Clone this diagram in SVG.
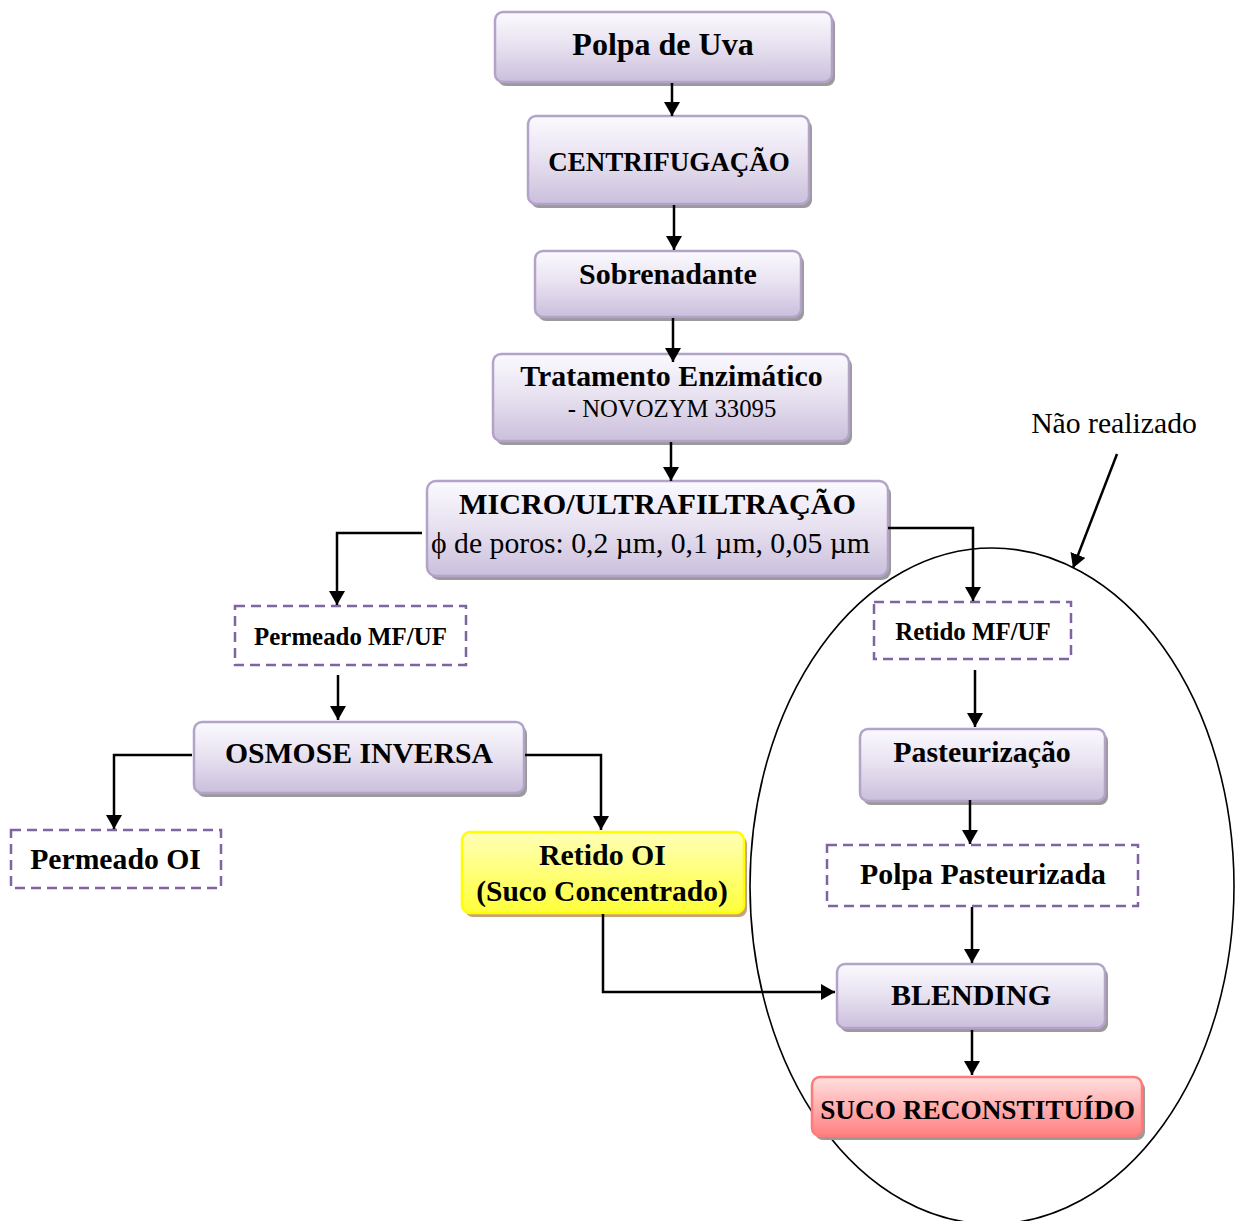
<svg xmlns="http://www.w3.org/2000/svg" width="1237" height="1221" viewBox="0 0 1237 1221">
  <defs>
    <linearGradient id="gLav" x1="0" y1="0" x2="0" y2="1">
      <stop offset="0" stop-color="#fbfaff"/>
      <stop offset="0.45" stop-color="#e9e3f1"/>
      <stop offset="1" stop-color="#cbbfdc"/>
    </linearGradient>
    <linearGradient id="gYel" x1="0" y1="0" x2="0" y2="1">
      <stop offset="0" stop-color="#ffffb8"/>
      <stop offset="1" stop-color="#ffff3a"/>
    </linearGradient>
    <linearGradient id="gRed" x1="0" y1="0" x2="0" y2="1">
      <stop offset="0" stop-color="#ffe0e0"/>
      <stop offset="1" stop-color="#ff8080"/>
    </linearGradient>
    <marker id="ah" viewBox="0 0 14 16" refX="14" refY="8" markerWidth="14" markerHeight="16" markerUnits="userSpaceOnUse" orient="auto">
      <path d="M0,0 L14,8 L0,16 Z" fill="#000"/>
    </marker>
  </defs>
  <style>
    text { font-family: "Liberation Serif", "Times New Roman", serif; fill: #000; }
    .b { font-weight: bold; text-anchor: middle; }
    .r { text-anchor: middle; }
    .box { fill: url(#gLav); stroke: #b4a3c9; stroke-width: 2.5; }
    .sh { fill: #9a9a9a; }
    .shy { fill: #c9a27c; }
    .dash { fill: #fff; stroke: #8064a2; stroke-width: 2.5; stroke-dasharray: 10 6; }
    .con { fill: none; stroke: #000; stroke-width: 2.5; marker-end: url(#ah); }
  </style>
  <rect width="1237" height="1221" fill="#fff"/>

  <!-- boundary of the branch that was not carried out -->
  <ellipse cx="992" cy="886" rx="242" ry="338" fill="none" stroke="#000" stroke-width="1.6"/>

  <g id="note">
    <text x="1114" y="433" class="r" font-size="29.7">Não realizado</text>
  </g>

  <g id="polpa-uva">
    <rect class="sh" x="498" y="16" width="337" height="70" rx="8"/>
    <rect class="box" x="495" y="12" width="337" height="70" rx="8"/>
    <text x="663" y="55" class="b" font-size="32">Polpa de Uva</text>
  </g>

  <g id="centrifugacao">
    <rect class="sh" x="531" y="120" width="281" height="88" rx="8"/>
    <rect class="box" x="528" y="116" width="281" height="88" rx="8"/>
    <text x="669" y="171" class="b" font-size="27">CENTRIFUGAÇÃO</text>
  </g>

  <g id="sobrenadante">
    <rect class="sh" x="538" y="255" width="266" height="66" rx="8"/>
    <rect class="box" x="535" y="251" width="266" height="66" rx="8"/>
    <text x="668" y="284" class="b" font-size="30">Sobrenadante</text>
  </g>

  <g id="tratamento">
    <rect class="sh" x="496" y="358" width="356" height="87" rx="8"/>
    <rect class="box" x="493" y="354" width="356" height="87" rx="8"/>
    <text x="671.5" y="386" class="b" font-size="29.9">Tratamento Enzimático</text>
    <text x="672" y="417" class="r" font-size="24.7">- NOVOZYM 33095</text>
  </g>

  <g id="micro-ultra">
    <rect class="sh" x="430" y="485" width="461" height="95" rx="9"/>
    <rect class="box" x="427" y="481" width="461" height="95" rx="9"/>
    <text x="657.5" y="514" class="b" font-size="30.2">MICRO/ULTRAFILTRAÇÃO</text>
    <text x="650.5" y="553" class="r" font-size="29.7">ϕ de poros: 0,2 µm, 0,1 µm, 0,05 µm</text>
  </g>

  <g id="permeado-mfuf">
    <rect class="dash" x="235" y="606" width="231" height="59"/>
    <text x="350.5" y="645" class="b" font-size="24.9">Permeado MF/UF</text>
  </g>

  <g id="retido-mfuf">
    <rect class="dash" x="874" y="602" width="197" height="57"/>
    <text x="973" y="640" class="b" font-size="24.9">Retido MF/UF</text>
  </g>

  <g id="osmose">
    <rect class="sh" x="197" y="726" width="330" height="71" rx="8"/>
    <rect class="box" x="194" y="722" width="330" height="71" rx="8"/>
    <text x="359" y="763" class="b" font-size="29.7">OSMOSE INVERSA</text>
  </g>

  <g id="permeado-oi">
    <rect class="dash" x="11" y="830" width="210" height="58"/>
    <text x="115.5" y="869" class="b" font-size="29.7">Permeado OI</text>
  </g>

  <g id="retido-oi">
    <rect class="shy" x="465" y="836" width="282" height="81" rx="8"/>
    <rect x="462" y="832" width="282" height="81" rx="8" fill="url(#gYel)" stroke="#ffff00" stroke-width="2.5"/>
    <text x="602.5" y="865" class="b" font-size="29.9">Retido OI</text>
    <text x="602" y="901" class="b" font-size="29.5">(Suco Concentrado)</text>
  </g>

  <g id="pasteurizacao">
    <rect class="sh" x="863" y="733" width="245" height="72" rx="8"/>
    <rect class="box" x="860" y="729" width="245" height="72" rx="8"/>
    <text x="982" y="762" class="b" font-size="29.9">Pasteurização</text>
  </g>

  <g id="polpa-pasteurizada">
    <rect class="dash" x="827" y="845" width="311" height="61"/>
    <text x="983" y="884" class="b" font-size="29.8">Polpa Pasteurizada</text>
  </g>

  <g id="blending">
    <rect class="sh" x="840" y="968" width="268" height="64" rx="8"/>
    <rect class="box" x="837" y="964" width="268" height="64" rx="8"/>
    <text x="971" y="1005" class="b" font-size="30">BLENDING</text>
  </g>

  <g id="suco-reconstituido">
    <rect class="sh" x="815" y="1081" width="330" height="59" rx="8"/>
    <rect x="812" y="1077" width="330" height="59" rx="8" fill="url(#gRed)" stroke="#ff7a7a" stroke-width="2.5"/>
    <text x="977.5" y="1119" class="b" font-size="27.3">SUCO RECONSTITUÍDO</text>
  </g>

  <g id="connectors">
    <path class="con" d="M672,83 V116"/>
    <path class="con" d="M674,205 V250"/>
    <path class="con" d="M673,318 V362"/>
    <path class="con" d="M671,442 V481"/>
    <path class="con" d="M422,533 H337 V605"/>
    <path class="con" d="M888,528 H973 V601"/>
    <path class="con" d="M338,675 V720"/>
    <path class="con" d="M192,755 H114 V829"/>
    <path class="con" d="M525,755 H601 V830"/>
    <path class="con" d="M603,914 V992 H835"/>
    <path class="con" d="M975,670 V727"/>
    <path class="con" d="M970,800 V844"/>
    <path class="con" d="M972,907 V963"/>
    <path class="con" d="M972,1030 V1075"/>
    <path class="con" d="M1117,454 L1073,568"/>
  </g>
</svg>
